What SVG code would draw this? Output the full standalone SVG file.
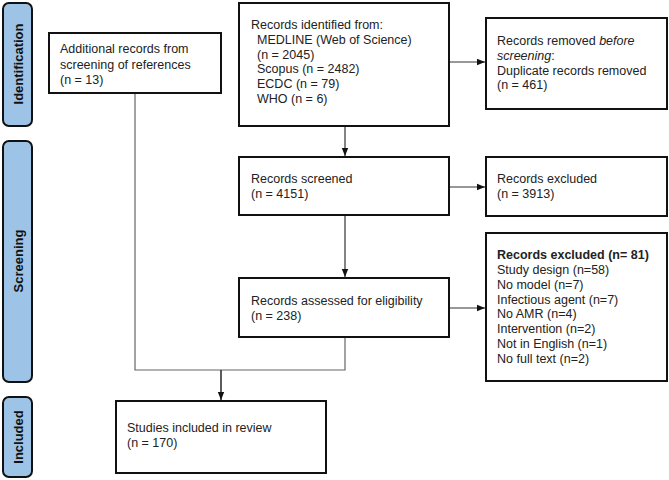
<svg xmlns="http://www.w3.org/2000/svg" width="669" height="480" viewBox="0 0 669 480">
<style>
.bar{fill:#9dc3e6;stroke:#111;stroke-width:2}
.box{fill:#fff;stroke:#111;stroke-width:2}
.t{font-family:"Liberation Sans",Arial,sans-serif;font-size:12.5px;fill:#222}
.lbl{font-family:"Liberation Sans",Arial,sans-serif;font-size:13px;font-weight:bold;fill:#111;text-anchor:middle}
.c{fill:none;stroke:#333;stroke-width:1.2}
.g{fill:none;stroke:#666;stroke-width:1.2}
</style>
<defs>
<marker id="ah" markerWidth="8" markerHeight="8" refX="8" refY="4" orient="auto" markerUnits="userSpaceOnUse">
<path d="M0,0.8 L8,4 L0,7.2 z" fill="#111"/>
</marker>
</defs>
<g id="phase-identification">
<rect class="bar" x="3" y="3" width="29" height="123" rx="6"/>
<text class="lbl" transform="translate(22.5,64) rotate(-90)">Identification</text>
</g>
<g id="phase-screening">
<rect class="bar" x="3" y="141" width="29" height="241" rx="6"/>
<text class="lbl" transform="translate(22.5,261) rotate(-90)">Screening</text>
</g>
<g id="phase-included">
<rect class="bar" x="3" y="397" width="29" height="80" rx="6"/>
<text class="lbl" transform="translate(22.5,437) rotate(-90)">Included</text>
</g>
<g id="connectors">
<path class="c" d="M345,126 V156" marker-end="url(#ah)"/>
<path class="c" d="M449,62 H485" marker-end="url(#ah)"/>
<path class="c" d="M345,215 V277" marker-end="url(#ah)"/>
<path class="c" d="M449,187 H485" marker-end="url(#ah)"/>
<path class="c" d="M449,308 H485" marker-end="url(#ah)"/>
<path class="g" d="M135,93 V370 H345 V337"/>
<path class="c" d="M221,370 V400" marker-end="url(#ah)" style="stroke-width:1.6"/>
</g>
<g id="additional">
<rect class="box" x="49" y="33" width="172" height="60"/>
<text class="t" x="60" y="53">Additional records from</text>
<text class="t" x="60" y="68.5">screening of references</text>
<text class="t" x="60" y="84">(n = 13)</text>
</g>
<g id="identified">
<rect class="box" x="239" y="3" width="210" height="123"/>
<text class="t" x="251" y="29">Records identified from:</text>
<text class="t" x="257" y="44">MEDLINE (Web of Science)</text>
<text class="t" x="257" y="58.5">(n = 2045)</text>
<text class="t" x="257" y="73">Scopus (n = 2482)</text>
<text class="t" x="257" y="88">ECDC (n = 79)</text>
<text class="t" x="257" y="103">WHO (n = 6)</text>
</g>
<g id="removed">
<rect class="box" x="486" y="18" width="181" height="91"/>
<text class="t" x="497" y="45">Records removed <tspan font-style="italic">before</tspan></text>
<text class="t" x="497" y="60"><tspan font-style="italic">screening</tspan>:</text>
<text class="t" x="497" y="74.5">Duplicate records removed</text>
<text class="t" x="497" y="89">(n = 461)</text>
</g>
<g id="screened">
<rect class="box" x="239" y="157" width="210" height="58"/>
<text class="t" x="251" y="183">Records screened</text>
<text class="t" x="251" y="198">(n = 4151)</text>
</g>
<g id="excluded">
<rect class="box" x="486" y="157" width="181" height="59"/>
<text class="t" x="497" y="183">Records excluded</text>
<text class="t" x="497" y="198">(n = 3913)</text>
</g>
<g id="assessed">
<rect class="box" x="239" y="278" width="210" height="59"/>
<text class="t" x="251" y="305">Records assessed for eligibility</text>
<text class="t" x="251" y="320">(n = 238)</text>
</g>
<g id="excluded-81">
<rect class="box" x="486" y="233" width="181" height="148"/>
<text class="t" x="497" y="259" font-weight="bold">Records excluded (n= 81)</text>
<text class="t" x="497" y="274">Study design (n=58)</text>
<text class="t" x="497" y="288.5">No model (n=7)</text>
<text class="t" x="497" y="303.5">Infectious agent (n=7)</text>
<text class="t" x="497" y="318">No AMR (n=4)</text>
<text class="t" x="497" y="333">Intervention (n=2)</text>
<text class="t" x="497" y="348">Not in English (n=1)</text>
<text class="t" x="497" y="363">No full text (n=2)</text>
</g>
<g id="included">
<rect class="box" x="116" y="401" width="210" height="72"/>
<text class="t" x="127" y="432">Studies included in review</text>
<text class="t" x="127" y="447">(n = 170)</text>
</g>
</svg>
